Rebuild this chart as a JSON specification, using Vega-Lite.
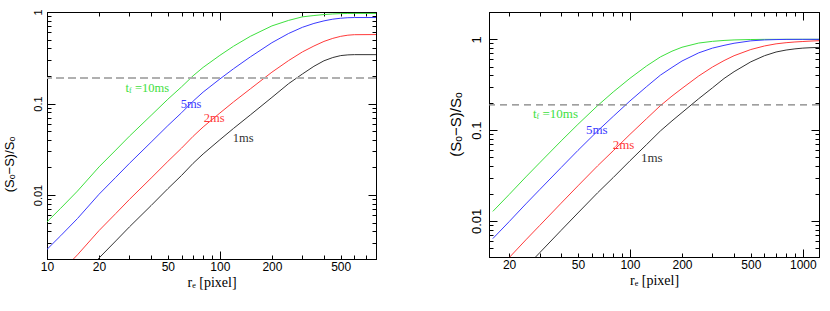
{
  "$schema": "https://vega.github.io/schema/vega-lite/v6.json",
  "padding": {"left": 2, "top": 8, "right": 5, "bottom": 5},
  "background": "white",
  "config": {
    "view": {"stroke": "#000", "strokeWidth": 1},
    "axis": {"grid": false, "domainColor": "#000", "tickColor": "#000", "labelColor": "#000", "titleColor": "#000", "labelFont": "Liberation Sans", "labelFontSize": 12, "titleFontWeight": "normal", "labelOverlap": false, "labelFlush": false, "tickWidth": 1}
  },
  "datasets": {
    "left": [
      {"r": 10, "y": 0.00509, "tf": "10ms"}, {"r": 12, "y": 0.00717, "tf": "10ms"}, {"r": 15, "y": 0.01104, "tf": "10ms"}, {"r": 20, "y": 0.0203, "tf": "10ms"}, {"r": 25, "y": 0.031, "tf": "10ms"}, {"r": 30, "y": 0.044, "tf": "10ms"}, {"r": 40, "y": 0.0741, "tf": "10ms"}, {"r": 50, "y": 0.1113, "tf": "10ms"}, {"r": 60, "y": 0.152, "tf": "10ms"}, {"r": 70, "y": 0.201, "tf": "10ms"}, {"r": 80, "y": 0.248, "tf": "10ms"}, {"r": 100, "y": 0.336, "tf": "10ms"}, {"r": 120, "y": 0.423, "tf": "10ms"}, {"r": 150, "y": 0.542, "tf": "10ms"}, {"r": 200, "y": 0.705, "tf": "10ms"}, {"r": 250, "y": 0.81, "tf": "10ms"}, {"r": 300, "y": 0.885, "tf": "10ms"}, {"r": 350, "y": 0.915, "tf": "10ms"}, {"r": 400, "y": 0.938, "tf": "10ms"}, {"r": 450, "y": 0.952, "tf": "10ms"}, {"r": 500, "y": 0.96, "tf": "10ms"}, {"r": 550, "y": 0.963, "tf": "10ms"}, {"r": 600, "y": 0.965, "tf": "10ms"}, {"r": 800, "y": 0.965, "tf": "10ms"},
      {"r": 10, "y": 0.00255, "tf": "5ms"}, {"r": 12, "y": 0.00359, "tf": "5ms"}, {"r": 15, "y": 0.00553, "tf": "5ms"}, {"r": 20, "y": 0.0102, "tf": "5ms"}, {"r": 25, "y": 0.01563, "tf": "5ms"}, {"r": 30, "y": 0.0222, "tf": "5ms"}, {"r": 40, "y": 0.0378, "tf": "5ms"}, {"r": 50, "y": 0.0573, "tf": "5ms"}, {"r": 60, "y": 0.0792, "tf": "5ms"}, {"r": 70, "y": 0.1061, "tf": "5ms"}, {"r": 80, "y": 0.1332, "tf": "5ms"}, {"r": 100, "y": 0.1854, "tf": "5ms"}, {"r": 120, "y": 0.24, "tf": "5ms"}, {"r": 150, "y": 0.323, "tf": "5ms"}, {"r": 200, "y": 0.462, "tf": "5ms"}, {"r": 250, "y": 0.583, "tf": "5ms"}, {"r": 300, "y": 0.68, "tf": "5ms"}, {"r": 350, "y": 0.75, "tf": "5ms"}, {"r": 400, "y": 0.8, "tf": "5ms"}, {"r": 450, "y": 0.835, "tf": "5ms"}, {"r": 500, "y": 0.855, "tf": "5ms"}, {"r": 550, "y": 0.866, "tf": "5ms"}, {"r": 600, "y": 0.87, "tf": "5ms"}, {"r": 800, "y": 0.87, "tf": "5ms"},
      {"r": 10, "y": 0.00102, "tf": "2ms"}, {"r": 12, "y": 0.00144, "tf": "2ms"}, {"r": 15, "y": 0.00222, "tf": "2ms"}, {"r": 20, "y": 0.00409, "tf": "2ms"}, {"r": 25, "y": 0.00628, "tf": "2ms"}, {"r": 30, "y": 0.00896, "tf": "2ms"}, {"r": 40, "y": 0.0153, "tf": "2ms"}, {"r": 50, "y": 0.0233, "tf": "2ms"}, {"r": 60, "y": 0.0325, "tf": "2ms"}, {"r": 70, "y": 0.0438, "tf": "2ms"}, {"r": 80, "y": 0.0554, "tf": "2ms"}, {"r": 100, "y": 0.0787, "tf": "2ms"}, {"r": 120, "y": 0.1042, "tf": "2ms"}, {"r": 150, "y": 0.1445, "tf": "2ms"}, {"r": 200, "y": 0.22, "tf": "2ms"}, {"r": 250, "y": 0.295, "tf": "2ms"}, {"r": 300, "y": 0.366, "tf": "2ms"}, {"r": 350, "y": 0.425, "tf": "2ms"}, {"r": 400, "y": 0.477, "tf": "2ms"}, {"r": 450, "y": 0.515, "tf": "2ms"}, {"r": 500, "y": 0.542, "tf": "2ms"}, {"r": 550, "y": 0.558, "tf": "2ms"}, {"r": 600, "y": 0.565, "tf": "2ms"}, {"r": 800, "y": 0.567, "tf": "2ms"},
      {"r": 10, "y": 0.00051, "tf": "1ms"}, {"r": 12, "y": 0.00072, "tf": "1ms"}, {"r": 15, "y": 0.00111, "tf": "1ms"}, {"r": 20, "y": 0.00205, "tf": "1ms"}, {"r": 25, "y": 0.00315, "tf": "1ms"}, {"r": 30, "y": 0.00449, "tf": "1ms"}, {"r": 40, "y": 0.00767, "tf": "1ms"}, {"r": 50, "y": 0.01173, "tf": "1ms"}, {"r": 60, "y": 0.01636, "tf": "1ms"}, {"r": 70, "y": 0.0222, "tf": "1ms"}, {"r": 80, "y": 0.0281, "tf": "1ms"}, {"r": 100, "y": 0.0402, "tf": "1ms"}, {"r": 120, "y": 0.0535, "tf": "1ms"}, {"r": 150, "y": 0.075, "tf": "1ms"}, {"r": 200, "y": 0.1166, "tf": "1ms"}, {"r": 250, "y": 0.165, "tf": "1ms"}, {"r": 300, "y": 0.21, "tf": "1ms"}, {"r": 350, "y": 0.255, "tf": "1ms"}, {"r": 400, "y": 0.293, "tf": "1ms"}, {"r": 450, "y": 0.318, "tf": "1ms"}, {"r": 500, "y": 0.334, "tf": "1ms"}, {"r": 550, "y": 0.34, "tf": "1ms"}, {"r": 600, "y": 0.342, "tf": "1ms"}, {"r": 800, "y": 0.342, "tf": "1ms"}
    ],
    "right": [
      {"r": 16.1, "y": 0.01272, "tf": "10ms"}, {"r": 20, "y": 0.0195, "tf": "10ms"}, {"r": 25, "y": 0.0305, "tf": "10ms"}, {"r": 30, "y": 0.0435, "tf": "10ms"}, {"r": 40, "y": 0.076, "tf": "10ms"}, {"r": 50, "y": 0.1157, "tf": "10ms"}, {"r": 65, "y": 0.186, "tf": "10ms"}, {"r": 80, "y": 0.263, "tf": "10ms"}, {"r": 100, "y": 0.372, "tf": "10ms"}, {"r": 125, "y": 0.51, "tf": "10ms"}, {"r": 150, "y": 0.64, "tf": "10ms"}, {"r": 175, "y": 0.74, "tf": "10ms"}, {"r": 200, "y": 0.818, "tf": "10ms"}, {"r": 250, "y": 0.91, "tf": "10ms"}, {"r": 300, "y": 0.95, "tf": "10ms"}, {"r": 350, "y": 0.972, "tf": "10ms"}, {"r": 400, "y": 0.985, "tf": "10ms"}, {"r": 500, "y": 0.995, "tf": "10ms"}, {"r": 600, "y": 0.999, "tf": "10ms"}, {"r": 800, "y": 1.0, "tf": "10ms"}, {"r": 1000, "y": 1.0, "tf": "10ms"}, {"r": 1240, "y": 1.0, "tf": "10ms"},
      {"r": 16.1, "y": 0.00638, "tf": "5ms"}, {"r": 20, "y": 0.0098, "tf": "5ms"}, {"r": 25, "y": 0.01538, "tf": "5ms"}, {"r": 30, "y": 0.022, "tf": "5ms"}, {"r": 40, "y": 0.0387, "tf": "5ms"}, {"r": 50, "y": 0.0597, "tf": "5ms"}, {"r": 65, "y": 0.0978, "tf": "5ms"}, {"r": 80, "y": 0.1416, "tf": "5ms"}, {"r": 100, "y": 0.2094, "tf": "5ms"}, {"r": 125, "y": 0.302, "tf": "5ms"}, {"r": 150, "y": 0.403, "tf": "5ms"}, {"r": 175, "y": 0.49, "tf": "5ms"}, {"r": 200, "y": 0.577, "tf": "5ms"}, {"r": 250, "y": 0.71, "tf": "5ms"}, {"r": 300, "y": 0.8, "tf": "5ms"}, {"r": 350, "y": 0.858, "tf": "5ms"}, {"r": 400, "y": 0.905, "tf": "5ms"}, {"r": 500, "y": 0.962, "tf": "5ms"}, {"r": 600, "y": 0.985, "tf": "5ms"}, {"r": 700, "y": 0.994, "tf": "5ms"}, {"r": 800, "y": 0.998, "tf": "5ms"}, {"r": 1000, "y": 0.9995, "tf": "5ms"}, {"r": 1240, "y": 0.9998, "tf": "5ms"},
      {"r": 16.1, "y": 0.00256, "tf": "2ms"}, {"r": 20, "y": 0.00393, "tf": "2ms"}, {"r": 25, "y": 0.00618, "tf": "2ms"}, {"r": 30, "y": 0.00886, "tf": "2ms"}, {"r": 40, "y": 0.01568, "tf": "2ms"}, {"r": 50, "y": 0.0243, "tf": "2ms"}, {"r": 65, "y": 0.0404, "tf": "2ms"}, {"r": 80, "y": 0.0592, "tf": "2ms"}, {"r": 100, "y": 0.0897, "tf": "2ms"}, {"r": 125, "y": 0.1341, "tf": "2ms"}, {"r": 150, "y": 0.186, "tf": "2ms"}, {"r": 175, "y": 0.237, "tf": "2ms"}, {"r": 200, "y": 0.288, "tf": "2ms"}, {"r": 250, "y": 0.395, "tf": "2ms"}, {"r": 300, "y": 0.495, "tf": "2ms"}, {"r": 350, "y": 0.583, "tf": "2ms"}, {"r": 400, "y": 0.66, "tf": "2ms"}, {"r": 500, "y": 0.772, "tf": "2ms"}, {"r": 600, "y": 0.845, "tf": "2ms"}, {"r": 700, "y": 0.892, "tf": "2ms"}, {"r": 800, "y": 0.918, "tf": "2ms"}, {"r": 900, "y": 0.935, "tf": "2ms"}, {"r": 1000, "y": 0.946, "tf": "2ms"}, {"r": 1100, "y": 0.956, "tf": "2ms"}, {"r": 1240, "y": 0.966, "tf": "2ms"},
      {"r": 16.1, "y": 0.00128, "tf": "1ms"}, {"r": 20, "y": 0.00197, "tf": "1ms"}, {"r": 25, "y": 0.0031, "tf": "1ms"}, {"r": 30, "y": 0.00444, "tf": "1ms"}, {"r": 40, "y": 0.00787, "tf": "1ms"}, {"r": 50, "y": 0.01222, "tf": "1ms"}, {"r": 65, "y": 0.0204, "tf": "1ms"}, {"r": 80, "y": 0.03, "tf": "1ms"}, {"r": 100, "y": 0.0459, "tf": "1ms"}, {"r": 125, "y": 0.0695, "tf": "1ms"}, {"r": 150, "y": 0.0979, "tf": "1ms"}, {"r": 175, "y": 0.1263, "tf": "1ms"}, {"r": 200, "y": 0.156, "tf": "1ms"}, {"r": 250, "y": 0.222, "tf": "1ms"}, {"r": 300, "y": 0.292, "tf": "1ms"}, {"r": 350, "y": 0.37, "tf": "1ms"}, {"r": 400, "y": 0.44, "tf": "1ms"}, {"r": 500, "y": 0.565, "tf": "1ms"}, {"r": 600, "y": 0.66, "tf": "1ms"}, {"r": 700, "y": 0.725, "tf": "1ms"}, {"r": 800, "y": 0.762, "tf": "1ms"}, {"r": 900, "y": 0.785, "tf": "1ms"}, {"r": 1000, "y": 0.8, "tf": "1ms"}, {"r": 1100, "y": 0.808, "tf": "1ms"}, {"r": 1240, "y": 0.815, "tf": "1ms"}
    ],
    "thr": [{"v": 0.19}],
    "labelsL": [
      {"x": 32.3, "y": 0.146, "text": "=10ms", "tf": "10ms"},
      {"x": 59.3, "y": 0.1, "text": "5ms", "tf": "5ms"},
      {"x": 80.8, "y": 0.0686, "text": "2ms", "tf": "2ms"},
      {"x": 118.9, "y": 0.0423, "text": "1ms", "tf": "1ms"}
    ],
    "labelsR": [
      {"x": 31.2, "y": 0.15, "text": "=10ms", "tf": "10ms"},
      {"x": 55.6, "y": 0.1, "text": "5ms", "tf": "5ms"},
      {"x": 79.4, "y": 0.069, "text": "2ms", "tf": "2ms"},
      {"x": 115.8, "y": 0.0488, "text": "1ms", "tf": "1ms"}
    ]
  },
  "hconcat": [
    {
      "width": 329,
      "height": 247,
      "layer": [
        {
          "data": {"name": "left"},
          "mark": {"type": "line", "clip": true, "strokeWidth": 1},
          "encoding": {
            "x": {"field": "r", "type": "quantitative", "scale": {"type": "log", "domain": [10, 800], "nice": false},
              "axis": {"orient": "bottom", "values": [10,20,30,40,50,60,70,80,90,100,200,300,400,500,600,700],
                "labelExpr": "indexof([10,20,50,100,200,500,1000], datum.value) >= 0 ? '' + datum.value : ''",
                "tickSize": {"condition": {"test": "indexof([10,100,1000], datum.value) >= 0", "value": -8}, "value": -4},
                "labelPadding": {"condition": {"test": "indexof([10,100,1000], datum.value) >= 0", "value": 10}, "value": 6},
                "title": "rₑ [pixel]", "titleFont": "Liberation Serif", "titleFontSize": 14, "titlePadding": 3}},
            "y": {"field": "y", "type": "quantitative", "scale": {"type": "log", "domain": [0.002, 1], "nice": false},
              "axis": {"orient": "left", "values": [0.002,0.003,0.004,0.005,0.006,0.007,0.008,0.009,0.01,0.02,0.03,0.04,0.05,0.06,0.07,0.08,0.09,0.1,0.2,0.3,0.4,0.5,0.6,0.7,0.8,0.9,1],
                "labelExpr": "datum.value == 1 ? '1' : datum.value == 0.1 ? '0.1' : datum.value == 0.01 ? '0.01' : ''",
                "tickSize": {"condition": {"test": "datum.value == 1 || datum.value == 0.1 || datum.value == 0.01", "value": -8}, "value": -4},
                "labelAngle": -90, "labelAlign": "center", "labelBaseline": "bottom", "labelPadding": 12, "labelFontSize": 11,
                "title": "(Sₒ−S)/Sₒ", "titleFont": "Liberation Sans", "titleFontSize": 13, "titleY": 152, "titlePadding": 12}},
            "color": {"field": "tf", "type": "nominal", "scale": {"domain": ["10ms","5ms","2ms","1ms"], "range": ["#3ee03e","#3a3aff","#ff3a3a","#333333"]}, "legend": null}
          }
        },
        {
          "data": {"name": "thr"},
          "mark": {"type": "rule", "stroke": "#b0b0b0", "strokeWidth": 2, "strokeDash": [8, 4]},
          "encoding": {
            "y": {"field": "v", "type": "quantitative",
              "axis": {"orient": "right", "values": [0.002,0.003,0.004,0.005,0.006,0.007,0.008,0.009,0.01,0.02,0.03,0.04,0.05,0.06,0.07,0.08,0.09,0.1,0.2,0.3,0.4,0.5,0.6,0.7,0.8,0.9,1],
                "labels": false, "title": null,
                "tickSize": {"condition": {"test": "datum.value == 1 || datum.value == 0.1 || datum.value == 0.01", "value": -8}, "value": -4}}}
          }
        },
        {
          "data": {"name": "labelsL"},
          "mark": {"type": "text", "align": "left", "baseline": "middle", "font": "Liberation Serif", "fontSize": 12.5},
          "encoding": {
            "x": {"field": "x", "type": "quantitative",
              "axis": {"orient": "top", "values": [10,20,30,40,50,60,70,80,90,100,200,300,400,500,600,700], "labels": false, "title": null,
                "tickSize": {"condition": {"test": "indexof([10,100,1000], datum.value) >= 0", "value": -8}, "value": -4}}},
            "y": {"field": "y", "type": "quantitative", "axis": null},
            "text": {"field": "text"},
            "color": {"field": "tf", "type": "nominal", "legend": null}
          }
        },
        {
          "data": {"name": "labelsL"},
          "transform": [{"filter": "datum.tf == '10ms'"}],
          "mark": {"type": "text", "align": "right", "baseline": "middle", "font": "Liberation Serif", "fontSize": 12.5, "dx": -6},
          "encoding": {
            "x": {"field": "x", "type": "quantitative", "axis": null},
            "y": {"field": "y", "type": "quantitative", "axis": null},
            "text": {"value": "t"},
            "color": {"field": "tf", "type": "nominal", "legend": null}
          }
        },
        {
          "data": {"name": "labelsL"},
          "transform": [{"filter": "datum.tf == '10ms'"}],
          "mark": {"type": "text", "align": "left", "baseline": "middle", "font": "Liberation Serif", "fontSize": 8, "dx": -6, "dy": 3},
          "encoding": {
            "x": {"field": "x", "type": "quantitative", "axis": null},
            "y": {"field": "y", "type": "quantitative", "axis": null},
            "text": {"value": "f"},
            "color": {"field": "tf", "type": "nominal", "legend": null}
          }
        }
      ],
      "resolve": {"axis": {"x": "independent", "y": "independent"}}
    },
    {
      "width": 330,
      "height": 245,
      "layer": [
        {
          "data": {"name": "right"},
          "mark": {"type": "line", "clip": true, "strokeWidth": 1},
          "encoding": {
            "x": {"field": "r", "type": "quantitative", "scale": {"type": "log", "domain": [15.3, 1240], "nice": false},
              "axis": {"orient": "bottom", "values": [20,30,40,50,60,70,80,90,100,200,300,400,500,600,700,800,900,1000],
                "labelExpr": "indexof([10,20,50,100,200,500,1000], datum.value) >= 0 ? '' + datum.value : ''",
                "tickSize": {"condition": {"test": "indexof([10,100,1000], datum.value) >= 0", "value": -8}, "value": -4},
                "labelPadding": {"condition": {"test": "indexof([10,100,1000], datum.value) >= 0", "value": 10}, "value": 6},
                "title": "rₑ [pixel]", "titleFont": "Liberation Serif", "titleFontSize": 14, "titlePadding": 3}},
            "y": {"field": "y", "type": "quantitative", "scale": {"type": "log", "domain": [0.004, 2], "nice": false},
              "axis": {"orient": "left", "values": [0.004,0.005,0.006,0.007,0.008,0.009,0.01,0.02,0.03,0.04,0.05,0.06,0.07,0.08,0.09,0.1,0.2,0.3,0.4,0.5,0.6,0.7,0.8,0.9,1,2],
                "labelExpr": "datum.value == 1 ? '1' : datum.value == 0.1 ? '0.1' : datum.value == 0.01 ? '0.01' : ''",
                "tickSize": {"condition": {"test": "datum.value == 1 || datum.value == 0.1 || datum.value == 0.01", "value": -8}, "value": -4},
                "labelAngle": -90, "labelAlign": "center", "labelBaseline": "bottom", "labelPadding": 14, "labelFontSize": 13,
                "title": "(Sₒ−S)/Sₒ", "titleFont": "Liberation Sans", "titleFontSize": 15, "titleY": 112, "titlePadding": 3}},
            "color": {"field": "tf", "type": "nominal", "scale": {"domain": ["10ms","5ms","2ms","1ms"], "range": ["#3ee03e","#3a3aff","#ff3a3a","#333333"]}, "legend": null}
          }
        },
        {
          "data": {"name": "thr"},
          "mark": {"type": "rule", "stroke": "#808080", "strokeWidth": 1.2, "strokeDash": [7, 5]},
          "encoding": {
            "y": {"field": "v", "type": "quantitative",
              "axis": {"orient": "right", "values": [0.004,0.005,0.006,0.007,0.008,0.009,0.01,0.02,0.03,0.04,0.05,0.06,0.07,0.08,0.09,0.1,0.2,0.3,0.4,0.5,0.6,0.7,0.8,0.9,1,2],
                "labels": false, "title": null,
                "tickSize": {"condition": {"test": "datum.value == 1 || datum.value == 0.1 || datum.value == 0.01", "value": -8}, "value": -4}}}
          }
        },
        {
          "data": {"name": "labelsR"},
          "mark": {"type": "text", "align": "left", "baseline": "middle", "font": "Liberation Serif", "fontSize": 13},
          "encoding": {
            "x": {"field": "x", "type": "quantitative",
              "axis": {"orient": "top", "values": [20,30,40,50,60,70,80,90,100,200,300,400,500,600,700,800,900,1000], "labels": false, "title": null,
                "tickSize": {"condition": {"test": "indexof([10,100,1000], datum.value) >= 0", "value": -8}, "value": -4}}},
            "y": {"field": "y", "type": "quantitative", "axis": null},
            "text": {"field": "text"},
            "color": {"field": "tf", "type": "nominal", "legend": null}
          }
        },
        {
          "data": {"name": "labelsR"},
          "transform": [{"filter": "datum.tf == '10ms'"}],
          "mark": {"type": "text", "align": "right", "baseline": "middle", "font": "Liberation Serif", "fontSize": 13, "dx": -6},
          "encoding": {
            "x": {"field": "x", "type": "quantitative", "axis": null},
            "y": {"field": "y", "type": "quantitative", "axis": null},
            "text": {"value": "t"},
            "color": {"field": "tf", "type": "nominal", "legend": null}
          }
        },
        {
          "data": {"name": "labelsR"},
          "transform": [{"filter": "datum.tf == '10ms'"}],
          "mark": {"type": "text", "align": "left", "baseline": "middle", "font": "Liberation Serif", "fontSize": 8, "dx": -6, "dy": 3},
          "encoding": {
            "x": {"field": "x", "type": "quantitative", "axis": null},
            "y": {"field": "y", "type": "quantitative", "axis": null},
            "text": {"value": "f"},
            "color": {"field": "tf", "type": "nominal", "legend": null}
          }
        }
      ],
      "resolve": {"axis": {"x": "independent", "y": "independent"}}
    }
  ],
  "spacing": 69
}
